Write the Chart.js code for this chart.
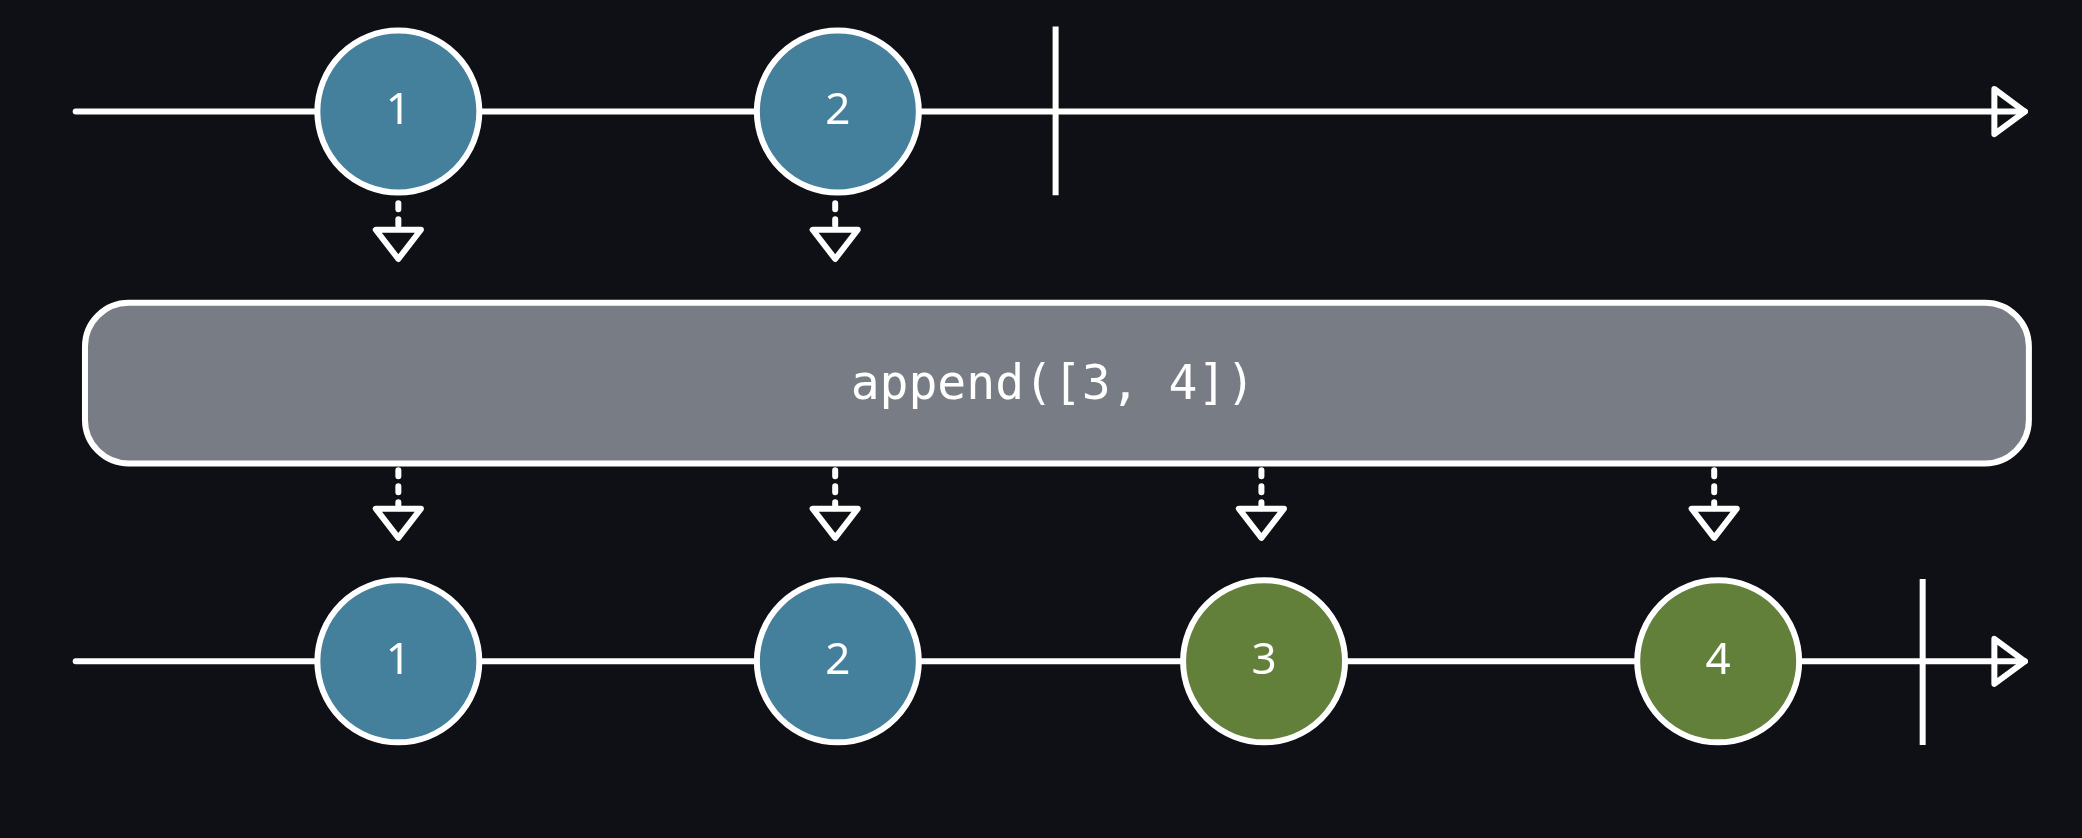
<!DOCTYPE html>
<html><head><meta charset="utf-8">
<script src="https://cdn.jsdelivr.net/npm/chart.js@4"></script>
<style>html,body{margin:0;background:#0f1015;}#wrap{width:2082px;height:838px;}</style>
</head><body><div id="wrap"><canvas id="c"></canvas></div>
<script>
// diagram units: 1568 x 631 reference grid
const inputMarbles = [300, 631];
const inputLabels = ['1', '2'];
const outputMarbles = [300, 631, 952, 1294];
const outputLabels = ['1', '2', '3', '4'];
const outputColors = ['#447f9c', '#447f9c', '#62803a', '#62803a'];
const topArrows = [300, 629];
const bottomArrows = [300, 629, 950, 1291];
const operatorText = 'append([3, 4])';
const topY = 84, bottomY = 498;
const topEnd = 795, bottomEnd = 1448;

const S = 2082 / 1568;
const LW = 6;

const overlay = {
  id: 'overlay',
  beforeDatasetsDraw(chart) {
    const {ctx, scales: {x, y}} = chart;
    const X = v => x.getPixelForValue(v), Y = v => y.getPixelForValue(v);
    ctx.save();
    ctx.strokeStyle = '#fff'; ctx.lineCap = 'round'; ctx.lineJoin = 'round';
    ctx.lineWidth = LW;
    // box
    const bx = X(64), by = Y(228), bw = X(1528) - bx, bh = Y(349) - by, r = 33 * S;
    ctx.beginPath(); ctx.roundRect(bx, by, bw, bh, r);
    ctx.fillStyle = '#787c85'; ctx.fill(); ctx.stroke();
    ctx.fillStyle = '#fff'; ctx.font = '48px "DejaVu Sans Mono"';
    ctx.textAlign = 'center'; ctx.textBaseline = 'middle';
    ctx.fillText(operatorText, X(793), Y(291));
    // arrow heads on timelines
    [topY, bottomY].forEach(ly => {
      ctx.beginPath();
      ctx.moveTo(X(1502), Y(ly - 17)); ctx.lineTo(X(1525), Y(ly)); ctx.lineTo(X(1502), Y(ly + 17)); ctx.closePath();
      ctx.fillStyle = '#0f1015'; ctx.fill(); ctx.stroke();
    });
    // completion bars
    ctx.lineCap = 'butt';
    ctx.beginPath();
    ctx.moveTo(X(topEnd), Y(20)); ctx.lineTo(X(topEnd), Y(147));
    ctx.moveTo(X(bottomEnd), Y(436)); ctx.lineTo(X(bottomEnd), Y(561));
    ctx.stroke();
    ctx.lineCap = 'round';
    // dashed arrows
    const drawArrow = (ax, y0, y1) => {
      ctx.setLineDash([6, 10]);
      ctx.beginPath(); ctx.moveTo(X(ax), Y(y0)); ctx.lineTo(X(ax), Y(y1 - 22)); ctx.stroke();
      ctx.setLineDash([]);
      ctx.beginPath();
      ctx.moveTo(X(ax - 17), Y(y1 - 22)); ctx.lineTo(X(ax + 17), Y(y1 - 22)); ctx.lineTo(X(ax), Y(y1)); ctx.closePath();
      ctx.stroke();
    };
    topArrows.forEach(a => drawArrow(a, 153, 195));
    bottomArrows.forEach(a => drawArrow(a, 354, 405));
    ctx.restore();
  },
  afterDatasetsDraw(chart) {
    const {ctx, scales: {x, y}} = chart;
    ctx.save();
    ctx.fillStyle = '#fff'; ctx.font = '44px "Noto Sans"';
    ctx.textAlign = 'center'; ctx.textBaseline = 'middle';
    inputMarbles.forEach((m, i) => ctx.fillText(inputLabels[i], x.getPixelForValue(m), y.getPixelForValue(topY)));
    outputMarbles.forEach((m, i) => ctx.fillText(outputLabels[i], x.getPixelForValue(m), y.getPixelForValue(bottomY)));
    ctx.restore();
  }
};

new Chart(document.getElementById('c'), {
  type: 'scatter',
  data: {
    datasets: [
      {data: [{x: 57, y: topY}, {x: 1525, y: topY}], showLine: true, borderColor: '#fff', borderWidth: LW, borderCapStyle: 'round', pointRadius: 0, order: 2},
      {data: [{x: 57, y: bottomY}, {x: 1525, y: bottomY}], showLine: true, borderColor: '#fff', borderWidth: LW, borderCapStyle: 'round', pointRadius: 0, order: 2},
      {data: inputMarbles.map(m => ({x: m, y: topY})), backgroundColor: '#447f9c', borderColor: '#fff', borderWidth: LW, pointRadius: 61 * S, pointHoverRadius: 61 * S, order: 1},
      {data: outputMarbles.map(m => ({x: m, y: bottomY})), backgroundColor: outputColors, borderColor: '#fff', borderWidth: LW, pointRadius: 61 * S, pointHoverRadius: 61 * S, order: 1}
    ]
  },
  options: {
    responsive: true, maintainAspectRatio: false, animation: false,
    layout: {padding: 0, autoPadding: false},
    clip: false,
    plugins: {legend: {display: false}, tooltip: {enabled: false}},
    scales: {
      x: {type: 'linear', display: false, min: 0, max: 1568},
      y: {type: 'linear', display: false, min: 0, max: 631, reverse: true}
    }
  },
  plugins: [overlay]
});
</script></body></html>
